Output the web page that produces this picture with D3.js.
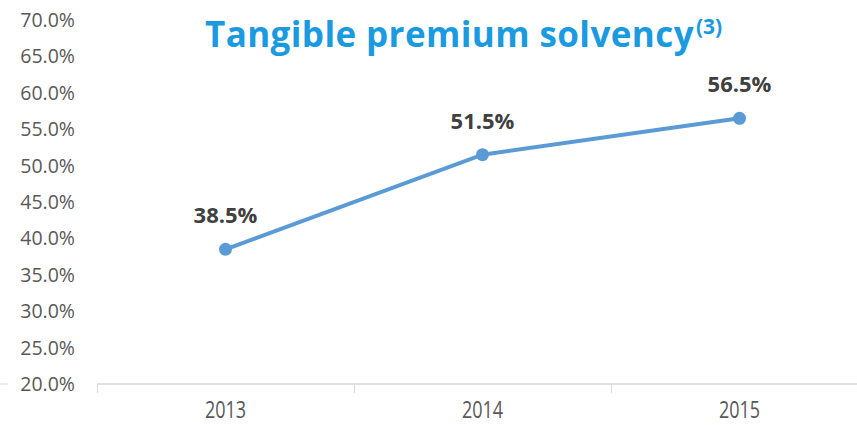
<!DOCTYPE html>
<html><head><meta charset="utf-8">
<script src="https://cdn.jsdelivr.net/npm/d3@7"></script>
<style>body{margin:0;background:#fff}svg{display:block}</style>
</head><body><svg id="c" width="857" height="425"></svg>
<script>
const categories = ["2013", "2014", "2015"];
const values = [38.5, 51.5, 56.5];
const yTicks = [20, 25, 30, 35, 40, 45, 50, 55, 60, 65, 70];
const title = "Tangible premium solvency";
const titleNote = "(3)";

const svg = d3.select("#c");
const x = d3.scaleBand().domain(categories).range([97, 868]);
const y = d3.scaleLinear().domain([20, 70]).range([384, 20]);

// y labels
svg.append("g").selectAll("text").data(yTicks).join("text")
  .attr("x", 75).attr("y", d => y(d)).attr("dy", "0.36em")
  .attr("text-anchor", "end")
  .attr("font-family", "Open Sans, sans-serif").attr("font-size", 19.5)
  .attr("fill", "#595959")
  .text(d => d.toFixed(1) + "%");

svg.append("line").attr("x1", 0).attr("x2", 8).attr("y1", y(20)).attr("y2", y(20))
  .attr("stroke", "#d9d9d9").attr("stroke-width", 1);

// x axis
const xa = svg.append("g").attr("transform", `translate(0,${y(20)})`)
  .call(d3.axisBottom(x).tickSize(0).tickFormat(""));
xa.select(".domain").attr("stroke", "#d9d9d9").attr("stroke-width", 1.5).attr("d", `M${x.range()[0]},0H857`);
const edges = categories.map(c => x(c));
svg.append("g").selectAll("line").data(edges).join("line")
  .attr("x1", d => d + 0.5).attr("x2", d => d + 0.5)
  .attr("y1", y(20)).attr("y2", y(20) + 9)
  .attr("stroke", "#d9d9d9");
const cx = d => x(d) + x.bandwidth() / 2;
svg.append("g").selectAll("text").data(categories).join("text")
  .attr("transform", d => `translate(${cx(d)},${y(20) + 34}) scale(1,1.3)`)
  .attr("text-anchor", "middle")
  .attr("font-family", "Open Sans, sans-serif").attr("font-size", 18)
  .attr("fill", "#595959")
  .text(d => d);

// line
svg.append("path").datum(values.map((v, i) => [categories[i], v]))
  .attr("fill", "none").attr("stroke", "#5b9bd5").attr("stroke-width", 4)
  .attr("d", d3.line().x(d => cx(d[0])).y(d => y(d[1])));
svg.append("g").selectAll("circle").data(values).join("circle")
  .attr("cx", (d, i) => cx(categories[i])).attr("cy", d => y(d)).attr("r", 6.5)
  .attr("fill", "#5b9bd5");
svg.append("g").selectAll("text").data(values).join("text")
  .attr("x", (d, i) => cx(categories[i])).attr("y", d => y(d) - 26)
  .attr("text-anchor", "middle")
  .attr("font-family", "Open Sans, sans-serif").attr("font-weight", "bold").attr("font-size", 22)
  .attr("fill", "#404040")
  .text(d => d.toFixed(1) + "%");

// title
const t = svg.append("text").attr("x", 205).attr("y", 47)
  .attr("font-family", "Open Sans, sans-serif").attr("font-weight", "bold").attr("font-size", 35)
  .attr("letter-spacing", 0.4)
  .attr("fill", "#1a9ae0");
t.append("tspan").text(title);
t.append("tspan").attr("dx", 2).attr("dy", -13).attr("font-size", 21).attr("letter-spacing", 0).text(titleNote);
</script></body></html>
